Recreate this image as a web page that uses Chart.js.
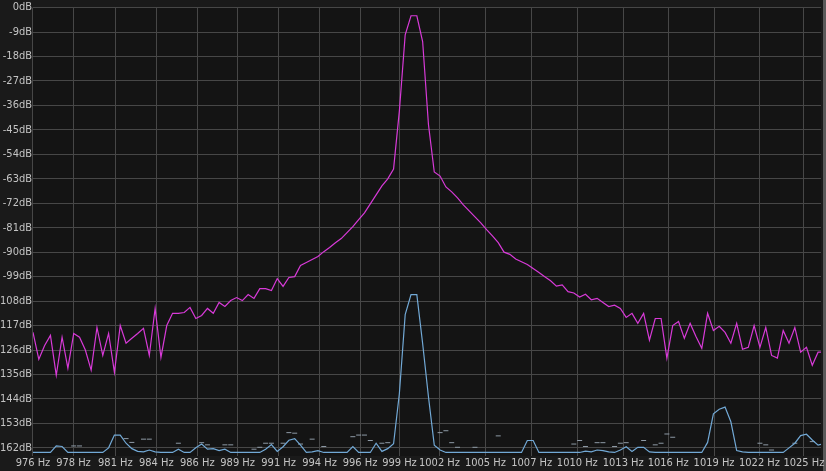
<!DOCTYPE html>
<html>
<head>
<meta charset="utf-8">
<script src="https://cdn.jsdelivr.net/npm/chart.js@4.4.0/dist/chart.umd.min.js"></script>
<style>
    html, body { margin: 0; padding: 0; background: #161616; }
    #wrap { width: 826px; height: 471px; }
</style>
</head>
<body>
<div id="wrap"><canvas id="spectrum" width="826" height="471"></canvas></div>
<script>
// FFT bins: 48 kHz / 131072 points, first visible bin ~976 Hz
const first_bin = 2665;
const bin_hz = 48000 / 131072;

// left channel (magenta), dB per bin
const magenta_db = [
    -119.5, -129.4, -124.3, -120.6, -135.3, -121.3, -132.7, -119.9, -121.3, -126,
    -133.4, -117.7, -128, -119.9, -134.2, -117, -123.5, -121.7, -119.9, -118,
    -128, -110.7, -128.7, -117, -112.5, -112.5, -112.2, -110.3, -114.4, -113.3,
    -110.7, -112.5, -108.5, -110, -107.8, -106.7, -107.8, -105.6, -107, -103.4,
    -103.4, -104.1, -99.7, -102.6, -99.3, -99, -94.9, -93.8, -92.7, -91.6,
    -89.8, -88.3, -86.5, -85, -82.8, -80.6, -78, -75.5, -72.2, -68.9,
    -65.6, -63, -59.4, -38, -10, -3, -3, -12.5, -43, -60.5,
    -62, -66, -67.8, -70, -72.6, -74.8, -77, -79.2, -81.7, -84,
    -86.5, -90, -90.8, -92.5, -93.5, -94.5, -96, -97.5, -99, -100.5,
    -102.5, -102, -104.5, -105, -106.5, -105.5, -107.5, -107, -108.5, -110,
    -109.5, -110.7, -114, -112.5, -116.2, -112.5, -122.4, -114.4, -114.4, -129,
    -117, -115.5, -121.7, -116.2, -121, -125.4, -112.5, -118.8, -117.3, -119.5,
    -123.5, -116.2, -125.7, -125, -117, -125, -117.7, -128, -129, -118.8,
    -123.5, -117.7, -126.8, -125, -131.6, -126.8, -126.8
];

// right channel (blue), dB per bin
const blue_db = [
    -163.7, -163.7, -163.7, -163.7, -161.3, -161.5, -163.7, -163.7, -163.7, -163.7,
    -163.7, -163.7, -163.7, -162, -157.3, -157.3, -160.3, -162.3, -163.3, -163.5,
    -162.8, -163.5, -163.7, -163.7, -163.7, -162.5, -163.7, -163.7, -162, -160.6,
    -162.5, -162.3, -163, -162.5, -163.7, -163.7, -163.7, -163.7, -163.7, -163.7,
    -162.5, -160.8, -163.3, -161.6, -159.2, -158.6, -161, -163.7, -163.5, -163,
    -163.7, -163.7, -163.7, -163.7, -163.7, -161.5, -163.7, -163.7, -163.7, -160.3,
    -163.3, -162.3, -160.5, -142, -113, -105.6, -105.6, -123.6, -143.2, -161,
    -162.8, -163.7, -163.7, -163.7, -163.7, -163.7, -163.7, -163.7, -163.7, -163.7,
    -163.7, -163.7, -163.7, -163.7, -163.7, -159.3, -159.3, -163.7, -163.7, -163.7,
    -163.7, -163.7, -163.7, -163.7, -163.7, -163.2, -163.5, -162.8, -163, -163.5,
    -163.7, -162.8, -161.6, -163.3, -161.8, -161.8, -163.5, -163.7, -163.7, -163.7,
    -163.7, -163.7, -163.7, -163.7, -163.7, -163.7, -160, -149.5, -147.8, -147,
    -152.4, -163, -163.5, -163.7, -163.7, -163.7, -163.7, -163.7, -163.7, -163.7,
    -162, -160.3, -157.5, -157, -159.1, -161, -160.5
];

// short grey markers near the floor (bin offset, dB)
const dash_bins = [
    7, 8, 16, 17, 19, 20, 25, 29, 30, 33, 34, 38, 39, 40, 41, 43, 44, 45, 46, 48,
    50, 55, 56, 57, 58, 60, 61, 70, 71, 72, 73, 76, 80, 93, 94, 95, 97, 98, 100, 101,
    102, 105, 107, 108, 109, 110, 125, 126, 127, 131, 134
];
const dash_db = [
    -161.3, -161.3, -158.6, -160, -158.8, -158.8, -160.3, -160.1, -160.9, -160.9,
    -160.9, -162.5, -161.8, -160.3, -160.3, -160.3, -156.4, -156.6, -160.6, -158.8,
    -161.5, -157.9, -157.3, -157.3, -159.3, -160.3, -160.1, -156.4, -155.7, -160.1,
    -161.8, -161.8, -157.6, -160.6, -159.3, -161.5, -160.1, -160.1, -161.5, -160.3,
    -160.1, -159.3, -160.9, -160.3, -156.9, -158.1, -160.3, -160.9, -162.8, -160.3,
    -159.7
];

// x grid positions (Hz) and their labels as the analyser prints them
const tick_hz = [
    975.95, 978.5, 981.14, 983.72, 986.3, 988.84, 991.42, 994.0, 996.55, 999.03,
    1001.55, 1004.44, 1007.36, 1010.23, 1013.12, 1015.95, 1018.84, 1021.7, 1024.5
];
const tick_labels = [
    '976 Hz', '978 Hz', '981 Hz', '984 Hz', '986 Hz', '989 Hz', '991 Hz', '994 Hz', '996 Hz', '999 Hz',
    '1002 Hz', '1005 Hz', '1007 Hz', '1010 Hz', '1013 Hz', '1016 Hz', '1019 Hz', '1022 Hz', '1025 Hz'
];
const db_ticks = [0, -9, -18, -27, -36, -45, -54, -63, -72, -81, -90, -99, -108, -117, -126, -135, -144, -153, -162];

const binFreq = (i) => (first_bin + i) * bin_hz;

const tick_font = { family: "'Liberation Sans Narrow', 'DejaVu Sans Condensed', 'Liberation Sans', sans-serif", size: 11 };

const backdrop = {
    id: 'backdrop',
    beforeDraw: (chart) => {
        const { ctx, chartArea } = chart;
        ctx.save();
        ctx.fillStyle = '#1a1a1a';
        ctx.fillRect(0, 0, chart.width, chart.height);
        ctx.fillStyle = '#141414';
        ctx.fillRect(chartArea.left, chartArea.top, chartArea.right - chartArea.left, chartArea.bottom - chartArea.top);
        ctx.fillStyle = '#5a5a5a';
        ctx.fillRect(chart.width - 3, 0, 3, chart.height);
        ctx.restore();
    }
};

(function () {
    const canvas = document.getElementById('spectrum');

    const data = {
        datasets: [{
            label: 'L',
            data: magenta_db.map((v, i) => ({ x: binFreq(i), y: v })),
            borderColor: '#d83ad8',
            borderWidth: 1.2,
            pointRadius: 0,
            tension: 0,
            order: 1,
        }, {
            label: 'R',
            data: blue_db.map((v, i) => ({ x: binFreq(i), y: v })),
            borderColor: '#72a9d6',
            borderWidth: 1.2,
            pointRadius: 0,
            tension: 0,
            order: 2,
        }, {
            label: 'hold',
            type: 'scatter',
            data: dash_db.map((v, i) => ({ x: binFreq(dash_bins[i]), y: v })),
            pointStyle: 'line',
            pointRadius: 2.5,
            borderColor: '#8e9aa6',
            borderWidth: 1,
            order: 3,
        }]
    };

    const config = {
        type: 'line',
        data: data,
        options: {
            responsive: false,
            animation: false,
            devicePixelRatio: 1,
            layout: { padding: { top: 6, right: 4, left: 0, bottom: 0 } },
            plugins: {
                legend: { display: false },
                tooltip: { enabled: false },
            },
            scales: {
                x: {
                    type: 'linear',
                    min: binFreq(0),
                    max: binFreq(135.5),
                    afterBuildTicks: (axis) => {
                        axis.ticks = tick_hz.map(v => ({ value: v }));
                    },
                    afterFit: (axis) => { axis.height = 15; },
                    ticks: {
                        autoSkip: false,
                        maxRotation: 0,
                        padding: 1,
                        color: '#c4c4c4',
                        font: tick_font,
                        callback: (v, i) => tick_labels[i],
                    },
                    grid: { color: '#474747', lineWidth: 1, drawTicks: false },
                    border: { display: false },
                },
                y: {
                    min: -165,
                    max: 0,
                    afterBuildTicks: (axis) => {
                        axis.ticks = db_ticks.map(v => ({ value: v }));
                    },
                    afterFit: (axis) => { axis.width = 33; },
                    ticks: {
                        padding: 1,
                        color: '#c4c4c4',
                        font: tick_font,
                        callback: (v) => v + 'dB',
                    },
                    grid: { color: '#474747', lineWidth: 1, drawTicks: false },
                    border: { display: false },
                }
            }
        },
        plugins: [backdrop],
    };

    new Chart(canvas, config);
})();
</script>
</body>
</html>
